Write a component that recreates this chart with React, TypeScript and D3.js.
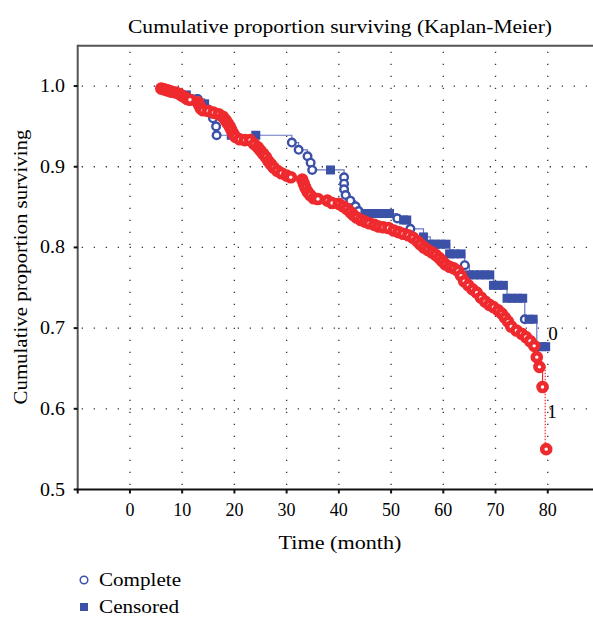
import * as d3 from 'd3'
import React, { useEffect, useRef } from 'react'

// Group 1 (red) – time in months, survival proportion
const redTimes = [
  6.0, 6.5, 7.0, 7.5, 8.0, 8.8, 9.5, 10.0, 10.5, 11.0, 11.5, 13.0, 13.3, 13.6, 14.0, 15.0,
  16.0, 17.0, 17.8, 18.3, 18.7, 19.1, 19.4, 19.8, 20.2, 21.0, 22.0, 23.0, 23.8, 24.5, 25.0,
  25.5, 26.0, 26.5, 27.0, 27.5, 28.2, 29.0, 30.0, 30.8, 33.0, 33.3, 33.6, 34.0, 34.5, 35.2,
  36.0, 37.8, 38.7, 40.0, 40.8, 41.5, 42.2, 42.8, 43.4, 44.2, 45.0, 45.8, 46.8, 47.6, 48.5,
  49.5, 50.5, 51.4, 52.3, 53.3, 54.2, 55.0, 55.6, 56.3, 57.0, 57.8, 58.5, 59.2, 59.8, 60.4,
  61.2, 62.0, 62.8, 63.4, 64.0, 64.8, 65.6, 66.4, 67.2, 68.0, 68.8, 69.6, 70.5, 71.2, 71.8,
  72.4, 73.0, 74.0, 75.0, 75.8, 76.6, 77.4, 77.9, 78.4, 79.0, 79.7,
]
const redSurv = [
  0.997, 0.996, 0.995, 0.994, 0.993, 0.992, 0.990, 0.988, 0.986, 0.984, 0.983, 0.980, 0.976,
  0.972, 0.970, 0.969, 0.967, 0.965, 0.962, 0.958, 0.954, 0.950, 0.946, 0.941, 0.937, 0.934,
  0.933, 0.933, 0.928, 0.924, 0.920, 0.916, 0.912, 0.907, 0.903, 0.899, 0.895, 0.892, 0.889,
  0.887, 0.884, 0.879, 0.874, 0.869, 0.865, 0.861, 0.860, 0.858, 0.855, 0.854, 0.851, 0.848,
  0.844, 0.840, 0.837, 0.834, 0.832, 0.830, 0.828, 0.826, 0.825, 0.824, 0.821, 0.819, 0.817,
  0.815, 0.812, 0.808, 0.804, 0.800, 0.797, 0.794, 0.791, 0.787, 0.783, 0.779, 0.776, 0.774,
  0.771, 0.765, 0.758, 0.753, 0.748, 0.744, 0.738, 0.733, 0.729, 0.726, 0.722, 0.718, 0.713,
  0.708, 0.702, 0.697, 0.693, 0.689, 0.684, 0.678, 0.664, 0.652, 0.627, 0.550,
]

// Group 0 (blue) – c = complete, s = censored
const blueTimes = [
  6.0, 8.0, 10.8, 13.0, 14.3, 15.0, 15.9, 16.5, 16.6, 19.4, 24.1, 31.0, 32.3, 34.0, 34.6, 34.9,
  38.4, 41.0, 41.0, 41.0, 41.3, 42.2, 43.2, 43.8, 45.0, 46.0, 47.0, 48.0, 49.7, 51.2, 52.4,
  53.0, 53.7, 56.2, 57.5, 58.5, 59.5, 60.5, 61.2, 62.2, 63.4, 64.1, 65.0, 66.0, 67.0, 68.0,
  68.9, 69.6, 70.5, 71.5, 72.2, 73.2, 74.2, 75.2, 75.6, 76.4, 77.2, 77.9, 78.8, 79.6,
]
const blueSurv = [
  0.996, 0.993, 0.989, 0.984, 0.978, 0.971, 0.960, 0.950, 0.939, 0.939, 0.939, 0.930, 0.921,
  0.913, 0.905, 0.896, 0.896, 0.887, 0.879, 0.872, 0.865, 0.858, 0.851, 0.845, 0.842, 0.842,
  0.842, 0.842, 0.842, 0.836, 0.834, 0.834, 0.823, 0.813, 0.804, 0.804, 0.804, 0.804, 0.792,
  0.792, 0.792, 0.778, 0.766, 0.766, 0.766, 0.766, 0.766, 0.753, 0.753, 0.753, 0.737, 0.737,
  0.737, 0.737, 0.711, 0.711, 0.711, 0.677, 0.677, 0.677,
]
const blueKinds = [
  'c', 'c', 's', 'c', 's', 'c', 'c', 'c', 'c', 's', 's', 'c', 'c', 'c', 'c', 'c',
  's', 'c', 'c', 'c', 'c', 'c', 'c', 'c', 's', 's', 's', 's', 's', 'c', 's',
  's', 'c', 's', 's', 's', 's', 's', 's', 's', 's', 'c', 's', 's', 's', 's',
  's', 's', 's', 's', 's', 's', 's', 's', 'c', 's', 's', 'c', 's', 's',
]

const xTicks = [-10, 0, 10, 20, 30, 40, 50, 60, 70, 80, 90]
const xTickLabels = [0, 10, 20, 30, 40, 50, 60, 70, 80]
const yTicks = [0.5, 0.6, 0.7, 0.8, 0.9, 1.0]

const RED = '#ee2a2f'
const BLUE = '#3b51a8'
const FONT = '"Liberation Serif", "DejaVu Serif", serif'

const App = () => {
  const svgRef = useRef<any>(null)

  useEffect(() => {
    if (!svgRef.current) return
    const svg = d3.select(svgRef.current)
    svg.selectAll('*').remove()

    const x = d3.scaleLinear().domain([-10, 90]).range([77.7, 600])
    const y = d3.scaleLinear().domain([0.5, 1.05]).range([489.5, 45.7])

    // label helper, stretched to the width of the original (wider) face
    const label = (tx: number, ty: number, str: string, len: number, anchor = 'middle') =>
      svg.append('text')
        .attr('x', tx).attr('y', ty)
        .attr('text-anchor', anchor)
        .attr('font-family', FONT).attr('font-size', 18)
        .attr('textLength', len)
        .attr('lengthAdjust', 'spacingAndGlyphs')
        .text(str)

    // Grid
    const grid = svg.append('g')
    grid.selectAll('.vg')
      .data(xTickLabels)
      .enter()
      .append('line')
      .attr('x1', (d) => x(d)).attr('x2', (d) => x(d))
      .attr('y1', y(1.05) + 6).attr('y2', y(0.5))
      .attr('stroke', '#333')
      .attr('stroke-width', 1.3)
      .attr('stroke-dasharray', '1.3 10.7')
    grid.selectAll('.hg')
      .data(yTicks.filter((d) => d > 0.5))
      .enter()
      .append('line')
      .attr('x1', x(-10) + 4).attr('x2', 593)
      .attr('y1', (d) => y(d)).attr('y2', (d) => y(d))
      .attr('stroke', '#333')
      .attr('stroke-width', 1.3)
      .attr('stroke-dasharray', '1.3 10.7')

    // Frame
    svg.append('line')
      .attr('x1', x(-10)).attr('x2', 593)
      .attr('y1', y(1.05)).attr('y2', y(1.05))
      .attr('stroke', '#555').attr('stroke-width', 2)
    svg.append('line')
      .attr('x1', x(-10)).attr('x2', x(-10))
      .attr('y1', y(1.05) - 1).attr('y2', y(0.5))
      .attr('stroke', '#555').attr('stroke-width', 2)
    svg.append('line')
      .attr('x1', x(-10) - 1).attr('x2', 593)
      .attr('y1', y(0.5)).attr('y2', y(0.5))
      .attr('stroke', '#111').attr('stroke-width', 2)

    // Ticks
    svg.selectAll('.yt')
      .data(yTicks)
      .enter()
      .append('line')
      .attr('x1', x(-10) - 4).attr('x2', x(-10))
      .attr('y1', (d) => y(d)).attr('y2', (d) => y(d))
      .attr('stroke', '#111').attr('stroke-width', 2)
    svg.selectAll('.xt')
      .data(xTicks)
      .enter()
      .append('line')
      .attr('x1', (d) => x(d)).attr('x2', (d) => x(d))
      .attr('y1', y(0.5)).attr('y2', y(0.5) + 4)
      .attr('stroke', '#111').attr('stroke-width', 2)

    svg.selectAll('.ytl')
      .data(yTicks)
      .enter()
      .append('text')
      .attr('x', 65).attr('y', (d) => y(d) + 6)
      .attr('text-anchor', 'end')
      .attr('font-family', FONT).attr('font-size', 18)
      .attr('textLength', 25)
      .attr('lengthAdjust', 'spacingAndGlyphs')
      .text((d) => d.toFixed(1))
    svg.selectAll('.xtl')
      .data(xTickLabels)
      .enter()
      .append('text')
      .attr('x', (d) => x(d)).attr('y', 516)
      .attr('text-anchor', 'middle')
      .attr('font-family', FONT).attr('font-size', 18)
      .text((d) => d)

    // Titles
    label(340, 33, 'Cumulative proportion surviving (Kaplan-Meier)', 424)
    label(0, 0, 'Cumulative proportion surviving', 275)
      .attr('transform', 'translate(27, 267) rotate(-90)')
    label(340, 549, 'Time (month)', 123)

    const step = d3.line<number>()
      .x((d) => x(d[0]))
      .y((d) => y(d[1]))
      .curve(d3.curveStepAfter)

    // Blue step line
    const bluePts: any = blueTimes.map((t, i) => [t, blueSurv[i]])
    svg.append('path')
      .attr('d', step(bluePts))
      .attr('fill', 'none')
      .attr('stroke', '#6a78c4')
      .attr('stroke-width', 1.2)

    // Red step line, last drop dotted
    const redPts: any = redTimes.map((t, i) => [t, redSurv[i]])
    svg.append('path')
      .attr('d', step(redPts.slice(0, -1)))
      .attr('fill', 'none')
      .attr('stroke', RED)
      .attr('stroke-width', 1.2)
    const last = redPts.length - 1
    svg.append('line')
      .attr('x1', x(redTimes[last]) - 1).attr('x2', x(redTimes[last]) - 1)
      .attr('y1', y(redSurv[last - 2])).attr('y2', y(redSurv[last]))
      .attr('stroke', RED)
      .attr('stroke-width', 1.2)
      .attr('stroke-dasharray', '1.5 1.5')

    // Blue markers
    const blue = svg.append('g')
    bluePts.forEach((p: any, i: number) => {
      if (blueKinds[i] === 'c') {
        blue.append('circle')
          .attr('cx', x(p[0])).attr('cy', y(p[1])).attr('r', 3.8)
          .attr('fill', 'white').attr('stroke', BLUE).attr('stroke-width', 2.4)
      } else {
        blue.append('rect')
          .attr('x', x(p[0]) - 4.5).attr('y', y(p[1]) - 4.5)
          .attr('width', 9).attr('height', 9)
          .attr('fill', BLUE)
      }
    })

    // Red markers
    svg.append('g')
      .selectAll('circle')
      .data(redPts)
      .enter()
      .append('circle')
      .attr('cx', (d: any) => x(d[0])).attr('cy', (d: any) => y(d[1]))
      .attr('r', 4)
      .attr('fill', 'white')
      .attr('stroke', RED)
      .attr('stroke-width', 4.6)

    // Group labels
    svg.append('text')
      .attr('x', 553).attr('y', 340)
      .attr('text-anchor', 'middle')
      .attr('font-family', FONT).attr('font-size', 19)
      .text('0')
    svg.append('text')
      .attr('x', 552).attr('y', 418)
      .attr('text-anchor', 'middle')
      .attr('font-family', FONT).attr('font-size', 19)
      .text('1')

    // Legend
    svg.append('circle')
      .attr('cx', 84).attr('cy', 580).attr('r', 3.8)
      .attr('fill', 'white').attr('stroke', BLUE).attr('stroke-width', 1.5)
    label(99, 586, 'Complete', 82, 'start')
    svg.append('rect')
      .attr('x', 80).attr('y', 603).attr('width', 8).attr('height', 8)
      .attr('fill', BLUE)
    label(99, 613, 'Censored', 80, 'start')
  }, [])

  return (
    <svg
      ref={svgRef}
      width={593}
      height={618}
      style={{ position: 'absolute', left: 0, top: 0, background: 'white' }}
    />
  )
}

export default App
